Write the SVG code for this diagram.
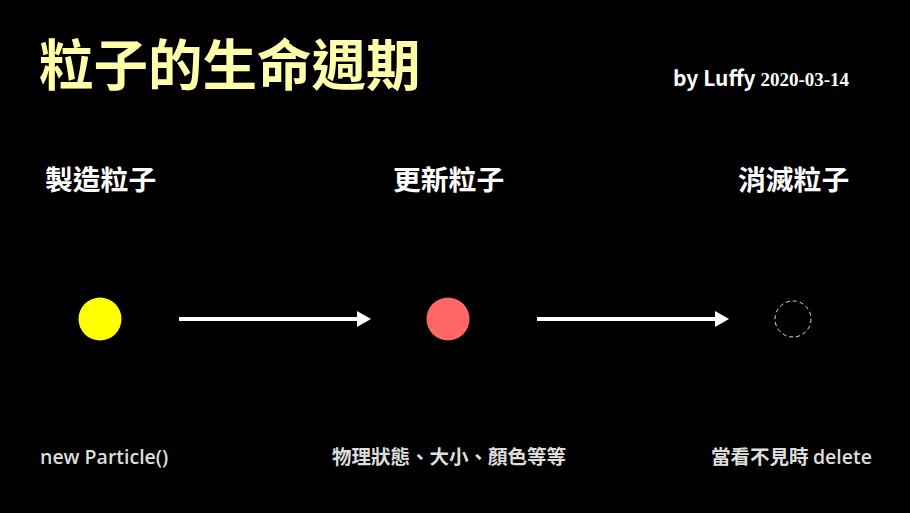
<svg xmlns="http://www.w3.org/2000/svg" width="910" height="513" viewBox="0 0 910 513">
<defs>
<style>
.t{font-family:"Noto Sans CJK TC","Noto Sans",sans-serif;font-weight:bold;fill:#fff}
.h{font-size:27.8px}
.s{font-size:19.5px;fill:#ddd;font-weight:bold}
.ln{stroke:#fff;stroke-width:4;fill:none}
</style>
<marker id="ah" markerWidth="4" markerHeight="4" refX="0" refY="2" orient="auto" markerUnits="strokeWidth">
<path d="M0,0 L3.5,2 L0,4 z" fill="#fff"/>
</marker>
</defs>
<rect width="910" height="513" fill="#000"/>
<text class="t" x="39" y="85" style="font-size:54.5px;fill:#ffffaa">粒子的生命週期</text>
<text class="t" x="673" y="86" style="font-size:21px">by Luffy <tspan style="font-family:'Liberation Serif',serif;font-size:19px">2020-03-14</tspan></text>
<g id="create">
<text class="t h" x="45" y="190">製造粒子</text>
<circle cx="100" cy="319" r="21.5" fill="#ffff00"/>
<text class="t s" x="40" y="464" style="font-family:'Open Sans','Noto Sans',sans-serif;font-weight:600">new Particle()</text>
</g>
<g id="update">
<text class="t h" x="393" y="190">更新粒子</text>
<circle cx="448" cy="319" r="21.5" fill="#ff6666"/>
<text class="t s" x="332" y="464">物理狀態、大小、顏色等等</text>
</g>
<g id="destroy">
<text class="t h" x="738" y="190">消滅粒子</text>
<circle cx="793" cy="319" r="18" fill="none" stroke="#ddd" stroke-width="1" stroke-dasharray="4,3"/>
<text class="t s" x="711" y="464">當看不見時 <tspan style="font-family:'Open Sans','Noto Sans',sans-serif;font-weight:600">delete</tspan></text>
</g>
<g id="connectors">
<line class="ln" x1="179" y1="319" x2="357" y2="319" marker-end="url(#ah)"/>
<line class="ln" x1="537" y1="319" x2="715" y2="319" marker-end="url(#ah)"/>
</g>
</svg>
